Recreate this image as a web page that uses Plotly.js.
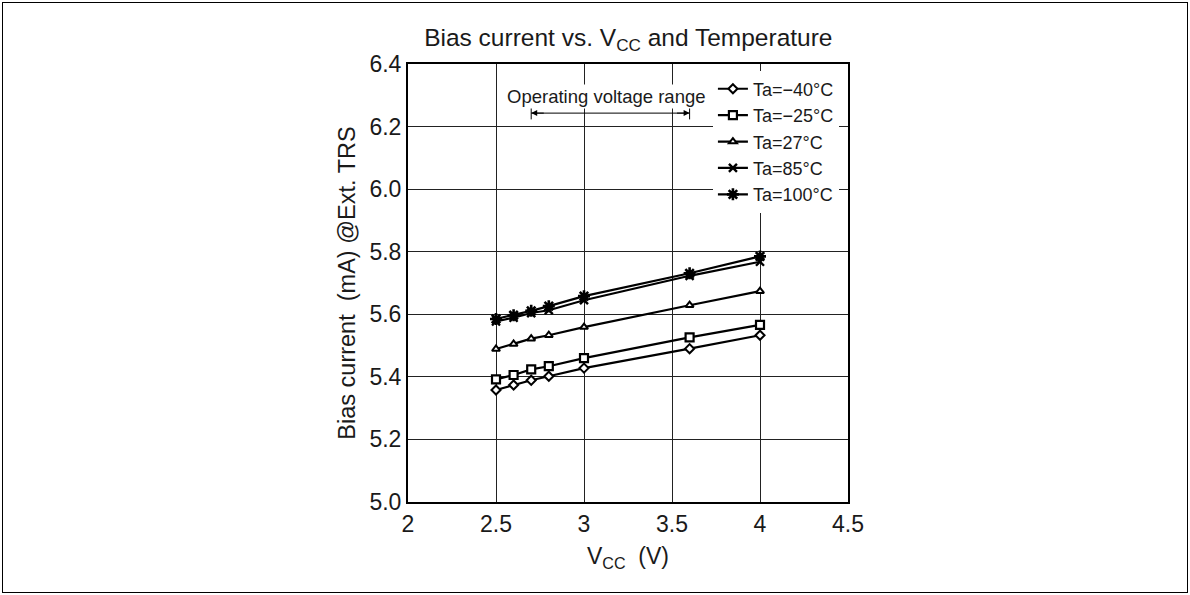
<!DOCTYPE html>
<html>
<head>
<meta charset="utf-8">
<script src="https://cdn.plot.ly/plotly-3.0.1.min.js"></script>
<style>
  html, body { margin: 0; padding: 0; background: #fff; }
  #wrap { position: relative; width: 1190px; height: 595px; }
  #chart { position: absolute; left: 0; top: 0; width: 1190px; height: 595px; }
  #frame { position: absolute; left: 2px; top: 2px; width: 1184px; height: 589px; border: 1.5px solid #000; pointer-events: none; }
</style>
</head>
<body>
<div id="wrap"><div id="chart"></div><div id="frame"></div></div>
<script>
const vcc = [2.5, 2.6, 2.7, 2.8, 3.0, 3.6, 4.0];
const seriesNames = ['Ta=\u221240\u00b0C', 'Ta=\u221225\u00b0C', 'Ta=27\u00b0C', 'Ta=85\u00b0C', 'Ta=100\u00b0C'];
const ta_m40 = [5.358, 5.374, 5.389, 5.402, 5.428, 5.490, 5.533];
const ta_m25 = [5.392, 5.406, 5.424, 5.434, 5.460, 5.526, 5.566];
const ta_27  = [5.489, 5.505, 5.522, 5.533, 5.559, 5.629, 5.674];
const ta_85  = [5.577, 5.589, 5.604, 5.613, 5.645, 5.723, 5.768];
const ta_100 = [5.585, 5.597, 5.611, 5.626, 5.658, 5.731, 5.785];
const xTicks = [2, 2.5, 3, 3.5, 4, 4.5];
const xTickText = ['2', '2.5', '3', '3.5', '4', '4.5'];
const yTicks = [5.0, 5.2, 5.4, 5.6, 5.8, 6.0, 6.2, 6.4];
const yTickText = ['5.0', '5.2', '5.4', '5.6', '5.8', '6.0', '6.2', '6.4'];
const opRange = [2.7, 3.6];
const opLabel = 'Operating voltage range';

const ys = [ta_m40, ta_m25, ta_27, ta_85, ta_100];
const markers = [
  {symbol: 'diamond', size: 7, color: '#fff', line: {color: '#000', width: 2}},
  {symbol: 'square', size: 8, color: '#fff', line: {color: '#000', width: 2.2}},
  {symbol: 'triangle-up', size: 7, color: '#fff', line: {color: '#000', width: 2}},
  {symbol: 'x-thin', size: 8, color: '#000', line: {color: '#000', width: 2.4}},
  {symbol: 'asterisk', size: 10, color: '#000', line: {color: '#000', width: 2.6}}
];
const traces = ys.map((y, i) => ({
  x: vcc, y: y, name: seriesNames[i], type: 'scatter', mode: 'lines+markers',
  line: {color: '#000', width: 2.2},
  marker: markers[i]
}));

const fam = 'Liberation Sans, Arial, sans-serif';
const col = '#1a1a1a';
const arrowY = 6.243;
const layout = {
  width: 1190, height: 595,
  margin: {l: 408, r: 342, t: 64, b: 93},
  paper_bgcolor: '#fff', plot_bgcolor: '#fff',
  font: {family: fam, size: 20, color: col},
  showlegend: true,
  title: {text: 'Bias current vs. V<sub>CC</sub> and Temperature', x: 0.528, xanchor: 'center', y: 0.937, yanchor: 'middle', font: {family: fam, size: 24.5, color: col}},
  xaxis: {
    range: [2, 4.5], tickvals: xTicks, ticktext: xTickText, ticks: '',
    showgrid: true, gridcolor: '#222', gridwidth: 1, zeroline: false,
    showline: true, linecolor: '#000', linewidth: 2, mirror: true,
    tickfont: {family: fam, size: 23, color: col},
    title: {text: 'V<sub>CC</sub>  (V)', font: {family: fam, size: 23, color: col}, standoff: 12}
  },
  yaxis: {
    range: [5.0, 6.4], tickvals: yTicks, ticktext: yTickText, ticks: '',
    showgrid: true, gridcolor: '#222', gridwidth: 1, zeroline: false,
    showline: true, linecolor: '#000', linewidth: 2, mirror: true,
    tickfont: {family: fam, size: 23, color: col},
    title: {text: 'Bias current  (mA) @Ext. TRS', font: {family: fam, size: 23.5, color: col}, standoff: 7}
  },
  legend: {
    x: 0.693, y: 0.985, xanchor: 'left', yanchor: 'top',
    bgcolor: '#fff', borderwidth: 0, itemwidth: 30, tracegroupgap: 0,
    font: {family: fam, size: 18, color: col}
  },
  shapes: [
    {type: 'line', xref: 'x', yref: 'y', x0: opRange[0], x1: opRange[1], y0: arrowY, y1: arrowY, line: {color: '#000', width: 1}},
    {type: 'line', xref: 'x', yref: 'y', x0: opRange[0], x1: opRange[0], y0: arrowY - 0.02, y1: arrowY + 0.02, line: {color: '#000', width: 1}},
    {type: 'line', xref: 'x', yref: 'y', x0: opRange[1], x1: opRange[1], y0: arrowY - 0.02, y1: arrowY + 0.02, line: {color: '#000', width: 1}}
  ],
  annotations: [
    {x: (opRange[0] + opRange[1]) / 2 - 0.02, y: 6.296, xref: 'x', yref: 'y', text: opLabel, showarrow: false, font: {family: fam, size: 18.5, color: col}, bgcolor: '#fff'},
    {x: opRange[0], y: arrowY, ax: opRange[0] + 0.08, ay: arrowY, axref: 'x', ayref: 'y', xref: 'x', yref: 'y', text: '', showarrow: true, arrowhead: 2, arrowsize: 1.2, arrowwidth: 1, arrowcolor: '#000'},
    {x: opRange[1], y: arrowY, ax: opRange[1] - 0.08, ay: arrowY, axref: 'x', ayref: 'y', xref: 'x', yref: 'y', text: '', showarrow: true, arrowhead: 2, arrowsize: 1.2, arrowwidth: 1, arrowcolor: '#000'}
  ]
};
Plotly.newPlot('chart', traces, layout, {staticPlot: true, displayModeBar: false});
</script>
</body>
</html>
